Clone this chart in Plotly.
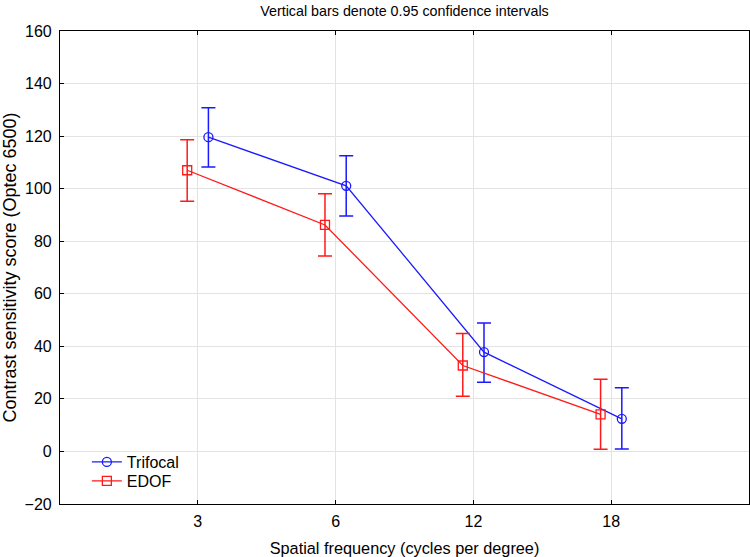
import plotly.graph_objects as go

categories = ["3", "6", "12", "18"]
trifocal_mean = [119.6, 101.1, 37.8, 12.4]
trifocal_upper = [130.8, 112.5, 48.9, 24.2]
trifocal_lower = [108.2, 89.6, 26.3, 0.9]
edof_mean = [107.0, 86.2, 32.7, 14.1]
edof_upper = [118.6, 98.1, 44.9, 27.5]
edof_lower = [95.2, 74.4, 21.0, 0.8]

pos = list(range(1, len(categories) + 1))
off = 0.077
FONT = "Liberation Sans, Arial, sans-serif"
BLUE = "#1a1aff"
RED = "#ff1a1a"

fig = go.Figure()
fig.add_trace(go.Scatter(
    x=[p + off for p in pos], y=trifocal_mean, name="Trifocal",
    mode="lines+markers", legend="legend",
    line=dict(color=BLUE, width=1.3),
    marker=dict(symbol="circle-open", size=9, color=BLUE, line=dict(width=1.3)),
    error_y=dict(type="data", symmetric=False,
                 array=[u - m for u, m in zip(trifocal_upper, trifocal_mean)],
                 arrayminus=[m - l for m, l in zip(trifocal_mean, trifocal_lower)],
                 color=BLUE, thickness=1.5, width=7),
))
fig.add_trace(go.Scatter(
    x=[p - off for p in pos], y=edof_mean, name="EDOF",
    mode="lines+markers", legend="legend2",
    line=dict(color=RED, width=1.3),
    marker=dict(symbol="square-open", size=9, color=RED, line=dict(width=1.3)),
    error_y=dict(type="data", symmetric=False,
                 array=[u - m for u, m in zip(edof_upper, edof_mean)],
                 arrayminus=[m - l for m, l in zip(edof_mean, edof_lower)],
                 color=RED, thickness=1.5, width=7),
))

leg_common = dict(x=0.039, xanchor="left", yanchor="middle",
                  bgcolor="rgba(255,255,255,0)", font=dict(size=16), itemwidth=30)

fig.update_layout(
    width=750, height=557,
    margin=dict(l=60, r=1, t=31, b=53),
    paper_bgcolor="white", plot_bgcolor="white",
    font=dict(family=FONT, size=16, color="black"),
    title=dict(text="Vertical bars denote 0.95 confidence intervals",
               x=(60 + 749) / 2 / 750, xanchor="center", y=0.98, yanchor="middle",
               font=dict(size=14.3)),
    showlegend=True,
    legend=dict(y=(504 - 462) / 473, **leg_common),
    legend2=dict(y=(504 - 481) / 473, **leg_common),
    xaxis=dict(range=[0, 5], tickmode="array", tickvals=pos, ticktext=categories,
               showgrid=True, gridcolor="#e3e3e3", gridwidth=1,
               showline=True, linecolor="black", linewidth=1.2, mirror="ticks",
               ticks="inside", ticklen=4, tickcolor="black",
               zeroline=False, tickfont=dict(size=16), ticklabelstandoff=3,
               title=dict(text="Spatial frequency (cycles per degree)", standoff=13,
                          font=dict(size=16.3))),
    yaxis=dict(range=[-20, 160], tickmode="array", tickvals=list(range(-20, 161, 20)),
               showgrid=True, gridcolor="#e3e3e3", gridwidth=1,
               showline=True, linecolor="black", linewidth=1.2, mirror=True,
               ticks="inside", ticklen=4, tickcolor="black",
               zeroline=False, tickfont=dict(size=16), ticklabelstandoff=4,
               title=dict(text="Contrast sensitivity score (Optec 6500)", standoff=6,
                          font=dict(size=18))),
)

fig.write_html("out.html", config={"displayModeBar": False},
               post_script="document.body.style.margin='0';")
